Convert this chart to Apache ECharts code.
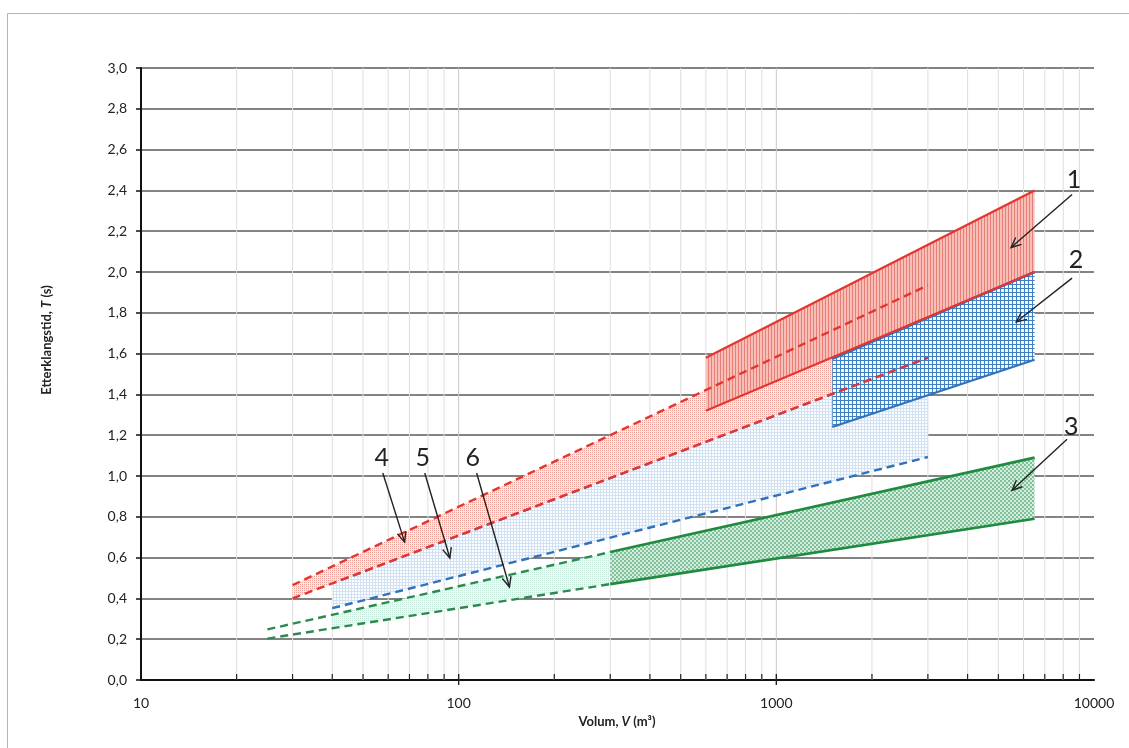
<!DOCTYPE html>
<html><head><meta charset="utf-8">
<script src="https://cdn.jsdelivr.net/npm/echarts@6/dist/echarts.min.js"></script>
<style>html,body{margin:0;padding:0;background:#fff}#c{width:1129px;height:748px}</style>
</head><body><div id="c"></div>
<script>
// ---------- data ----------
const xTickLabels = ['10', '100', '1000', '10000'];
const minorVolumes = [20,30,40,50,60,70,80,90,200,300,400,500,600,700,800,900,2000,3000,4000,5000,6000,7000,8000,9000];
const decadeVolumes = [100, 1000];

// Band 1 (red, vertical hatch)
const band1Top    = [[600, 1.58], [6500, 2.40]];
const band1Bottom = [[600, 1.32], [6500, 2.00]];
// Band 2 (blue grid)
const band2Top    = [[1500, 1.575], [6500, 2.00]];
const band2Bottom = [[1500, 1.24], [6500, 1.57]];
// Band 3 (green cross hatch)
const band3Top    = [[300, 0.627], [6500, 1.09]];
const band3Bottom = [[300, 0.47], [6500, 0.79]];
// Band 4 (red dotted, dashed borders)
const band4Top    = [[30, 0.465], [3000, 1.935]];
const band4Bottom = [[30, 0.40], [3000, 1.58]];
// Band 5 (light blue grid)
const band5Top    = [[40, 0.473], [3000, 1.58]];
const band5Bottom = [[40, 0.352], [3000, 1.093]];
// Band 6 (light green) dashed borders and its filled part
const band6Top    = [[25, 0.248], [300, 0.627]];
const band6Bottom = [[25, 0.203], [300, 0.47]];
const band6FillTop    = [[40, 0.32], [300, 0.627]];
const band6FillBottom = [[40, 0.254], [300, 0.47]];

// Annotations (numbers with arrows), in data coordinates
const annotationLabels = ['1', '2', '3', '4', '5', '6'];
const annotationLabelPos = [[8650, 2.45], [8770, 2.06], [8475, 1.24], [57.3, 1.09], [77.1, 1.09], [110.7, 1.09]];
const arrowTails = [[8530, 2.38], [8530, 1.97], [8225, 1.18], [57.7, 1.015], [78.2, 1.015], [113.9, 1.015]];
const arrowTips  = [[5480, 2.12], [5690, 1.755], [5520, 0.93], [67.6, 0.676], [93.8, 0.598], [144.5, 0.456]];

// ---------- styles ----------
const RED = '#e5352e', BLUE = '#2f72b8', GREEN = '#1f8a40', GREEN_D = '#2b8a4f';
function pat(w, h, draw) {
  const c = document.createElement('canvas'); c.width = w; c.height = h;
  const g = c.getContext('2d'); draw(g); return { image: c, repeat: 'repeat' };
}
const pBand1 = pat(3, 3, g => { g.fillStyle = '#f7bfb7'; g.fillRect(0,0,3,3); g.fillStyle = '#ea7d75'; g.fillRect(0,0,1,3); });
const pBand2 = pat(4, 4, g => { g.fillStyle = '#f4f8fc'; g.fillRect(0,0,4,4); g.fillStyle = '#3f7fc2'; g.fillRect(0,0,4,1); g.fillRect(0,0,1,4); });
const pBand3 = pat(4, 4, g => { g.fillStyle = '#d6ecdf'; g.fillRect(0,0,4,4); g.fillStyle = '#7fc199'; g.fillRect(0,0,2,2); g.fillRect(2,2,2,2); });
const pBand4 = pat(2, 2, g => { g.fillStyle = '#fde9e6'; g.fillRect(0,0,2,2); g.fillStyle = '#f0a098'; g.fillRect(0,0,1,1); });
const pBand5 = pat(3, 3, g => { g.fillStyle = '#fbfdff'; g.fillRect(0,0,3,3); g.fillStyle = '#d2e2f2'; g.fillRect(0,0,3,1); g.fillRect(0,0,1,3); });
const pBand6 = pat(2, 2, g => { g.fillStyle = '#eef8f4'; g.fillRect(0,0,2,2); g.fillStyle = '#c6e8da'; g.fillRect(0,0,1,1); });

function bandSeries(name, top, bottom, fill, z) {
  return {
    type: 'custom', name, z, silent: true, animation: false,
    data: [top[0]],
    renderItem: (params, api) => {
      const pts = top.map(p => api.coord(p)).concat(bottom.slice().reverse().map(p => api.coord(p)));
      return { type: 'polygon', shape: { points: pts }, style: { fill: fill, stroke: null } };
    }
  };
}
function lineSeries(name, data, color, width, dashed, z, offset) {
  return {
    type: 'line', name, data, z, symbol: 'none', silent: true, animation: false,
    lineStyle: { color, width, type: dashed ? [8, 5] : 'solid', dashOffset: offset || 0, cap: 'butt' }
  };
}

const series = [
  // vertical minor grid lines + minor ticks on the x axis
  {
    type: 'custom', name: 'grid', z: 1, silent: true, animation: false,
    data: minorVolumes.map(v => [v, 0]),
    renderItem: (params, api) => {
      const v = api.value(0);
      const b = api.coord([v, 0]), t = api.coord([v, 3]);
      return { type: 'group', children: [
        { type: 'line', shape: { x1: b[0], y1: b[1], x2: t[0], y2: t[1] }, style: { stroke: '#dedede', lineWidth: 1 } },
        { type: 'line', shape: { x1: b[0], y1: b[1], x2: b[0], y2: b[1] - 6 }, style: { stroke: '#222', lineWidth: 1.2 } }
      ]};
    }
  },
  {
    type: 'custom', name: 'decades', z: 1, silent: true, animation: false,
    data: decadeVolumes.map(v => [v, 0]),
    renderItem: (params, api) => {
      const v = api.value(0);
      const b = api.coord([v, 0]), t = api.coord([v, 3]);
      return { type: 'group', children: [
        { type: 'line', shape: { x1: b[0], y1: b[1], x2: t[0], y2: t[1] }, style: { stroke: '#c8c8c8', lineWidth: 1 } },
        { type: 'line', shape: { x1: b[0], y1: b[1] + 5, x2: b[0], y2: b[1] - 6 }, style: { stroke: '#222', lineWidth: 1.4 } }
      ]};
    }
  },
  bandSeries('Band 5', band5Top, band5Bottom, pBand5, 2),
  bandSeries('Band 4', band4Top, band4Bottom, pBand4, 2),
  bandSeries('Band 6', band6FillTop, band6FillBottom, pBand6, 2),
  bandSeries('Band 1', band1Top, band1Bottom, pBand1, 2),
  bandSeries('Band 2', band2Top, band2Bottom, pBand2, 2),
  bandSeries('Band 3', band3Top, band3Bottom, pBand3, 2),

  lineSeries('5 top', band5Top, BLUE, 2.2, true, 3, 4),
  lineSeries('5 bottom', band5Bottom, BLUE, 2.4, true, 3),
  lineSeries('6 top', band6Top, GREEN_D, 2.4, true, 3),
  lineSeries('6 bottom', band6Bottom, GREEN_D, 2.4, true, 3),
  lineSeries('4 top', band4Top, RED, 2.4, true, 3),
  lineSeries('4 bottom', band4Bottom, RED, 2.4, true, 3),
  lineSeries('2 top', band2Top, BLUE, 2.6, false, 3),
  lineSeries('2 bottom', band2Bottom, BLUE, 2.2, false, 3),
  lineSeries('1 top', band1Top, RED, 2.2, false, 3),
  lineSeries('1 bottom', band1Bottom, RED, 2.0, false, 3),
  lineSeries('3 top', band3Top, GREEN, 2.6, false, 3),
  lineSeries('3 bottom', band3Bottom, GREEN, 2.6, false, 3),

  // annotations
  {
    type: 'custom', name: 'annotations', z: 5, silent: true, animation: false,
    data: annotationLabels.map((l, i) => [annotationLabelPos[i][0], annotationLabelPos[i][1], i]),
    renderItem: (params, api) => {
      const i = params.dataIndex;
      const lp = api.coord(annotationLabelPos[i]);
      const a = api.coord(arrowTails[i]), b = api.coord(arrowTips[i]);
      const dx = b[0] - a[0], dy = b[1] - a[1], len = Math.hypot(dx, dy);
      const ux = dx / len, uy = dy / len, L = 11, ang = 0.42;
      const c = Math.cos(ang), s = Math.sin(ang);
      const h1 = [b[0] - L * (ux * c - uy * s), b[1] - L * (uy * c + ux * s)];
      const h2 = [b[0] - L * (ux * c + uy * s), b[1] - L * (uy * c - ux * s)];
      return { type: 'group', children: [
        { type: 'text', x: lp[0], y: lp[1], style: { text: annotationLabels[i], fill: '#222', font: '25px Lato, "Open Sans", sans-serif', align: 'center', verticalAlign: 'middle' } },
        { type: 'line', shape: { x1: a[0], y1: a[1], x2: b[0], y2: b[1] }, style: { stroke: '#222', lineWidth: 1.4 } },
        { type: 'polyline', shape: { points: [h1, b, h2] }, style: { stroke: '#222', lineWidth: 1.4, fill: null } }
      ]};
    }
  }
];

const chart = echarts.init(document.getElementById('c'), null, { renderer: 'canvas' });
chart.setOption({
  animation: false,
  backgroundColor: '#ffffff',
  grid: { left: 141, right: 35, top: 68, bottom: 68, containLabel: false },
  xAxis: {
    type: 'log', logBase: 10, min: 10, max: 10000,
    axisLine: { lineStyle: { color: '#111', width: 2 } },
    axisTick: { show: false },
    axisLabel: {
      margin: 16, color: '#222', fontSize: 14, fontFamily: 'Lato, "Open Sans", sans-serif',
      formatter: v => xTickLabels[Math.round(Math.log10(v)) - 1]
    },
    splitLine: { show: false }
  },
  yAxis: {
    type: 'value', min: 0, max: 3, interval: 0.2,
    axisLine: { show: true, lineStyle: { color: '#111', width: 2 } },
    axisTick: { show: true, length: 5, lineStyle: { color: '#111', width: 1.5 } },
    axisLabel: {
      margin: 14, color: '#222', fontSize: 14, fontFamily: 'Lato, "Open Sans", sans-serif',
      formatter: v => v.toFixed(1).replace('.', ',')
    },
    splitLine: { show: true, lineStyle: { color: '#5a5a5a', width: 1.5 } }
  },
  graphic: [
    { type: 'rect', silent: true, z: -1, shape: { x: 7.5, y: 13.5, width: 1140, height: 760 }, style: { fill: null, stroke: '#b5b5b5', lineWidth: 1 } },
    { type: 'text', x: 47, y: 340, rotation: Math.PI / 2,
      style: { text: '{b|Etterklangstid, }{i|T}{b| (s)}', align: 'center', verticalAlign: 'middle',
        rich: { b: { font: 'bold 13px Lato, "Open Sans", sans-serif', fill: '#222' }, i: { font: 'italic bold 13px Lato, "Open Sans", sans-serif', fill: '#222' } } } },
    { type: 'text', x: 617, y: 722,
      style: { text: '{b|Volum, }{i|V}{b| (m³)}', align: 'center', verticalAlign: 'middle',
        rich: { b: { font: 'bold 13px Lato, "Open Sans", sans-serif', fill: '#222' }, i: { font: 'italic bold 13px Lato, "Open Sans", sans-serif', fill: '#222' } } } }
  ],
  series
});
</script></body></html>
